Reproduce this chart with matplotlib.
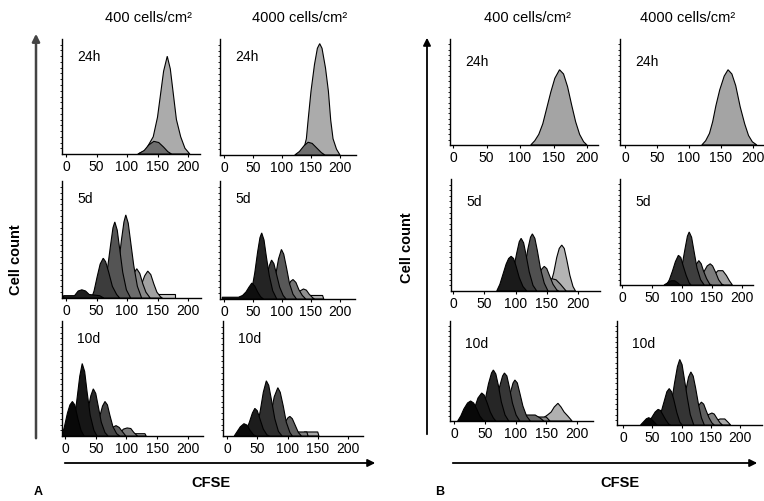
import numpy as np
import matplotlib.pyplot as plt

plt.rcParams['font.family'] = ['Liberation Sans', 'DejaVu Sans']

# CFSE histograms: one list of generation curves per panel, undivided (lightest) first.
# each point is (CFSE, cell count as % of the panel height)
a_24h_400 = [
    [(118, 0), (130, 3), (143, 15), (150, 32), (155, 52), (160, 72), (166, 85), (171, 74),
     (176, 52), (181, 30), (188, 15), (195, 5), (203, 0)],
    [(118, 0), (128, 3), (136, 8), (144, 11), (152, 10), (160, 6), (167, 2), (173, 0)],
]
a_24h_4000 = [
    [(131, 0), (138, 6), (142, 14), (145, 30), (150, 55), (156, 78), (161, 92), (165, 96),
     (169, 92), (175, 75), (180, 55), (184, 30), (188, 14), (194, 5), (200, 0)],
    [(122, 0), (130, 3), (138, 8), (145, 11), (152, 10), (160, 6), (168, 2), (174, 0)],
]
a_5d_400 = [
    [(140, 0), (140, 3), (178, 3), (178, 0)],
    [(112, 0), (118, 4), (124, 12), (129, 19), (134, 23), (139, 20), (144, 12), (149, 5), (155, 1), (158, 0)],
    [(94, 0), (100, 4), (106, 12), (111, 21), (116, 25), (121, 21), (126, 12), (131, 5), (138, 0)],
    [(72, 0), (80, 10), (86, 28), (91, 50), (95, 65), (98, 71), (102, 64), (106, 48), (111, 28), (117, 10), (124, 0)],
    [(56, 0), (62, 8), (68, 25), (73, 45), (77, 60), (80, 65), (84, 58), (88, 42), (93, 22), (99, 7), (106, 0)],
    [(42, 0), (46, 6), (51, 18), (56, 29), (61, 34), (65, 31), (70, 22), (76, 10), (83, 3), (88, 0)],
    [(-4, 0), (-4, 2), (14, 2), (20, 6), (26, 7), (32, 6), (38, 3), (55, 2), (62, 0)],
]
a_5d_4000 = [
    [(145, 0), (148, 3), (170, 3), (172, 0)],
    [(118, 0), (124, 3), (130, 6.5), (137, 8.5), (142, 7.5), (147, 4), (153, 1), (156, 0)],
    [(98, 0), (104, 4), (110, 10), (115, 15), (119, 16.5), (124, 14), (129, 8), (135, 3), (141, 0)],
    [(78, 0), (84, 8), (89, 20), (94, 34), (99, 42), (103, 38), (108, 26), (113, 13), (119, 4), (125, 0)],
    [(62, 0), (68, 8), (73, 18), (78, 28), (82, 33), (86, 30), (91, 20), (96, 10), (102, 3), (107, 0)],
    [(42, 0), (48, 8), (53, 22), (58, 40), (62, 52), (65, 56), (69, 50), (73, 36), (78, 20), (84, 7), (91, 0)],
    [(-3, 0), (-3, 1.5), (25, 1.5), (32, 3), (38, 6), (43, 10), (48, 13.5), (53, 11), (58, 6), (63, 2), (68, 0)],
]
a_10d_400 = [
    [(104, 0), (106, 2), (130, 2), (132, 0)],
    [(84, 0), (90, 3), (95, 6), (101, 7), (107, 6.5), (112, 3), (118, 0)],
    [(66, 0), (72, 4), (77, 7.5), (83, 9), (88, 7.5), (93, 4), (99, 0)],
    [(46, 0), (51, 6), (56, 16), (61, 26), (65, 30), (69, 27), (73, 18), (78, 8), (84, 2), (89, 0)],
    [(27, 0), (32, 8), (37, 22), (42, 35), (46, 41), (50, 37), (54, 26), (59, 12), (65, 3), (70, 0)],
    [(9, 0), (14, 10), (19, 30), (24, 52), (28, 63), (32, 56), (36, 38), (41, 18), (47, 5), (52, 0)],
    [(-5, 0), (-1, 8), (4, 20), (8, 27), (12, 30), (16, 27), (21, 15), (26, 5), (31, 0)],
]
a_10d_4000 = [
    [(125, 0), (128, 3.5), (150, 3.5), (152, 0)],
    [(108, 0), (112, 3.5), (132, 3.5), (134, 0)],
    [(84, 0), (90, 5), (96, 12), (101, 16), (104, 17), (108, 15), (113, 9), (118, 3), (123, 0)],
    [(62, 0), (68, 8), (73, 20), (78, 34), (84, 42), (88, 38), (93, 26), (98, 12), (104, 3), (108, 0)],
    [(44, 0), (50, 8), (55, 22), (60, 38), (65, 48), (69, 44), (74, 30), (79, 15), (85, 4), (91, 0)],
    [(27, 0), (32, 5), (37, 12), (42, 20), (46, 24), (50, 22), (55, 14), (60, 6), (66, 1), (70, 0)],
    [(12, 0), (17, 4), (22, 8), (28, 10.7), (33, 9.5), (38, 5), (44, 1), (48, 0)],
]
b_24h_400 = [
    [(116, 0), (122, 4), (128, 10), (134, 20), (140, 35), (146, 50), (152, 63), (159, 71), (165, 67),
     (171, 55), (177, 38), (183, 22), (189, 10), (195, 3), (200, 0)],
]
b_24h_4000 = [
    [(120, 0), (126, 4), (132, 11), (137, 22), (142, 37), (148, 52), (155, 65), (161, 71), (167, 67),
     (173, 56), (180, 36), (187, 20), (193, 9), (199, 3), (206, 0)],
]
b_5d_400 = [
    [(150, 0), (156, 6), (161, 16), (166, 30), (170, 38), (174, 41), (178, 38), (182, 28), (187, 14), (192, 4), (196, 0)],
    [(140, 0), (146, 5), (152, 9), (158, 11), (165, 10), (172, 6), (178, 2), (181, 0)],
    [(124, 0), (130, 5), (136, 12), (141, 19), (146, 22), (150, 20), (155, 13), (160, 6), (166, 1), (169, 0)],
    [(104, 0), (110, 8), (115, 22), (120, 38), (124, 48), (127, 51), (131, 47), (135, 36), (140, 20), (146, 7), (152, 0)],
    [(86, 0), (92, 8), (97, 20), (102, 34), (106, 44), (109, 47), (113, 43), (117, 32), (122, 17), (128, 5), (134, 0)],
    [(70, 0), (75, 6), (80, 15), (85, 24), (89, 29), (93, 31), (97, 29), (101, 22), (106, 12), (112, 4), (118, 0)],
]
b_5d_4000 = [
    [(144, 0), (149, 5), (154, 10), (160, 13.5), (168, 13.5), (174, 9), (179, 4), (184, 0)],
    [(124, 0), (130, 5), (136, 12), (142, 18), (147, 20), (151, 18), (156, 12), (161, 5), (166, 1), (169, 0)],
    [(106, 0), (112, 4), (117, 11), (122, 18), (128, 23), (132, 20), (136, 13), (141, 6), (146, 1), (149, 0)],
    [(90, 0), (95, 6), (100, 18), (105, 34), (109, 46), (112, 50), (116, 45), (120, 32), (125, 16), (131, 5), (137, 0)],
    [(74, 0), (79, 5), (84, 13), (89, 22), (94, 28), (98, 26), (102, 18), (107, 9), (112, 2), (115, 0)],
    [(70, 0), (76, 2), (82, 4), (88, 4), (93, 2), (97, 0)],
]
b_10d_400 = [
    [(138, 0), (145, 3), (152, 6), (158, 9), (163, 14), (169, 17.7), (174, 14), (179, 9), (185, 5), (192, 0)],
    [(118, 0), (124, 4), (150, 4), (156, 0)],
    [(100, 0), (106, 3), (112, 5), (118, 6), (132, 6), (140, 3), (146, 0)],
    [(76, 0), (82, 6), (87, 16), (92, 29), (96, 38), (99, 41), (103, 38), (107, 28), (112, 15), (118, 5), (124, 0)],
    [(58, 0), (64, 8), (69, 20), (74, 34), (79, 45), (82, 48), (86, 45), (90, 34), (95, 18), (101, 6), (107, 0)],
    [(40, 0), (46, 8), (51, 22), (56, 37), (61, 48), (64, 51), (68, 47), (72, 36), (77, 19), (83, 6), (89, 0)],
    [(23, 0), (29, 6), (34, 14), (39, 23), (45, 28), (49, 26), (54, 18), (59, 9), (64, 3), (68, 0)],
    [(6, 0), (11, 5), (16, 12), (22, 18), (27, 20), (32, 18), (37, 12), (42, 5), (47, 1), (50, 0)],
]
b_10d_4000 = [
    [(148, 0), (154, 2), (160, 4.5), (166, 5.8), (174, 5.8), (179, 3), (184, 0)],
    [(130, 0), (136, 3), (141, 6.5), (146, 10), (152, 11.5), (156, 10.5), (161, 6), (166, 2), (170, 0)],
    [(112, 0), (118, 5), (123, 11), (128, 18), (134, 22), (138, 20), (142, 14), (147, 7), (152, 2), (156, 0)],
    [(92, 0), (98, 8), (103, 20), (108, 35), (112, 46), (116, 51), (120, 47), (124, 36), (129, 20), (134, 7), (139, 0)],
    [(72, 0), (78, 8), (83, 22), (88, 40), (93, 56), (97, 63), (101, 58), (105, 44), (110, 26), (115, 10), (121, 0)],
    [(55, 0), (61, 6), (66, 14), (71, 24), (75, 32), (79, 35), (83, 32), (87, 24), (92, 12), (97, 3), (101, 0)],
    [(40, 0), (45, 3), (50, 8), (55, 12.5), (60, 15), (64, 14), (68, 10), (73, 5), (78, 1), (81, 0)],
    [(30, 0), (35, 3), (40, 6), (44, 7), (48, 6), (53, 3), (58, 0)],
]

density_labels = ['400 cells/cm\u00b2', '4000 cells/cm\u00b2']
xticks = [0, 50, 100, 150, 200]

# grey shades for each panel, lightest first
greys = {
    'a_24h_400': ['#ababab', '#6e6e6e'],
    'a_24h_4000': ['#ababab', '#6e6e6e'],
    'a_5d_400': ['#c8c8c8', '#a2a2a2', '#888888', '#6c6c6c', '#545454', '#3c3c3c', '#1e1e1e'],
    'a_5d_4000': ['#b0b0b0', '#909090', '#747474', '#585858', '#3c3c3c', '#242424', '#0e0e0e'],
    'a_10d_400': ['#a0a0a0', '#7c7c7c', '#5e5e5e', '#444444', '#2a2a2a', '#161616', '#080808'],
    'a_10d_4000': ['#a8a8a8', '#808080', '#606060', '#464646', '#2e2e2e', '#1c1c1c', '#0a0a0a'],
    'b_24h_400': ['#a4a4a4'],
    'b_24h_4000': ['#a4a4a4'],
    'b_5d_400': ['#b4b4b4', '#909090', '#747474', '#505050', '#383838', '#1a1a1a'],
    'b_5d_4000': ['#a0a0a0', '#7c7c7c', '#5c5c5c', '#3e3e3e', '#2a2a2a', '#0c0c0c'],
    'b_10d_400': ['#b0b0b0', '#848484', '#666666', '#4c4c4c', '#363636', '#262626', '#181818', '#080808'],
    'b_10d_4000': ['#a8a8a8', '#808080', '#606060', '#484848', '#343434', '#242424', '#161616', '#060606'],
}

# pixel layout: y-axis x, x-axis end, top, baseline, pixel of CFSE 0, pixels per CFSE unit
layout = {
    'a_24h_400': (62, 200, 40, 155, 66, 0.61),
    'a_24h_4000': (220, 356, 40, 156, 224, 0.58),
    'a_5d_400': (62, 201, 182, 299, 66, 0.61),
    'a_5d_4000': (220, 355, 182, 300, 224, 0.58),
    'a_10d_400': (62, 203, 322, 437, 65, 0.615),
    'a_10d_4000': (223, 363, 322, 437, 227, 0.605),
    'b_24h_400': (450, 598, 40, 146, 453, 0.67),
    'b_24h_4000': (620, 763, 40, 146, 625, 0.64),
    'b_5d_400': (451, 600, 180, 292, 453, 0.625),
    'b_5d_4000': (620, 753, 180, 286, 622, 0.60),
    'b_10d_400': (450, 593, 322, 422, 454, 0.615),
    'b_10d_4000': (617, 762, 322, 426, 623, 0.585),
}

panels = {
    'a_24h_400': a_24h_400, 'a_24h_4000': a_24h_4000,
    'a_5d_400': a_5d_400, 'a_5d_4000': a_5d_4000,
    'a_10d_400': a_10d_400, 'a_10d_4000': a_10d_4000,
    'b_24h_400': b_24h_400, 'b_24h_4000': b_24h_4000,
    'b_5d_400': b_5d_400, 'b_5d_4000': b_5d_4000,
    'b_10d_400': b_10d_400, 'b_10d_4000': b_10d_4000,
}

W, H = 764, 502
fig = plt.figure(figsize=(W / 100, H / 100), dpi=100)

for name, gens in panels.items():
    left, right, top, base, zero, scale = layout[name]
    ax = fig.add_axes([left / W, 1 - base / H, (right - left) / W, (base - top) / H])
    for i, gen in enumerate(gens):
        xs, ys = zip(*gen)
        ax.fill(xs, ys, fc=greys[name][i], ec='black', lw=0.8, zorder=2 + i)
    ax.set_xlim((left - zero) / scale, (right - zero) / scale)
    ax.set_ylim(0, 100)
    for s in ['top', 'right']:
        ax.spines[s].set_visible(False)
    for s in ['left', 'bottom']:
        ax.spines[s].set_linewidth(1.0)
    ax.set_xticks(xticks)
    ax.set_xticklabels([str(t) for t in xticks], fontsize=10)
    ax.set_yticks(np.arange(5, 100, 5))
    ax.set_yticklabels([])
    ax.tick_params(axis='x', length=2, pad=1.5)
    ax.tick_params(axis='y', length=1.5, width=0.6)
    ax.patch.set_alpha(0)
    tlabel = name.split('_')[1]
    dy = -7 if name.startswith('a') else -11
    ax.annotate(tlabel, xy=(0, 1), xycoords='axes fraction', xytext=(11, dy),
                textcoords='offset points', ha='left', va='top', fontsize=10)

# overlay in pixel coordinates for arrows and outer labels
ov = fig.add_axes([0, 0, 1, 1])
ov.set_xlim(0, W)
ov.set_ylim(H, 0)
ov.axis('off')
ov.patch.set_alpha(0)

arrow = dict(arrowstyle='-|>', color='black', lw=1.3, mutation_scale=11)
ov.annotate('', xy=(378, 464), xytext=(62, 464), arrowprops=arrow)
ov.annotate('', xy=(760, 464), xytext=(450, 464), arrowprops=arrow)
ov.annotate('', xy=(36, 32), xytext=(36, 442), arrowprops=dict(arrow, color='#444444', lw=1.8))
ov.annotate('', xy=(427, 36), xytext=(427, 438), arrowprops=arrow)

for x, t in zip([148, 300, 527, 688], density_labels * 2):
    ov.text(x, 18, t, ha='center', va='center', fontsize=10.5)

ov.text(16, 260, 'Cell count', rotation=90, ha='center', va='center', fontsize=10.5, fontweight='bold')
ov.text(407, 248, 'Cell count', rotation=90, ha='center', va='center', fontsize=10.5, fontweight='bold')
ov.text(211, 483, 'CFSE', ha='center', va='center', fontsize=10.5, fontweight='bold')
ov.text(620, 483, 'CFSE', ha='center', va='center', fontsize=10.5, fontweight='bold')
ov.text(38, 492, 'A', ha='center', va='center', fontsize=9, fontweight='bold')
ov.text(440, 492, 'B', ha='center', va='center', fontsize=9, fontweight='bold')

fig.savefig('out.png', dpi=100)
